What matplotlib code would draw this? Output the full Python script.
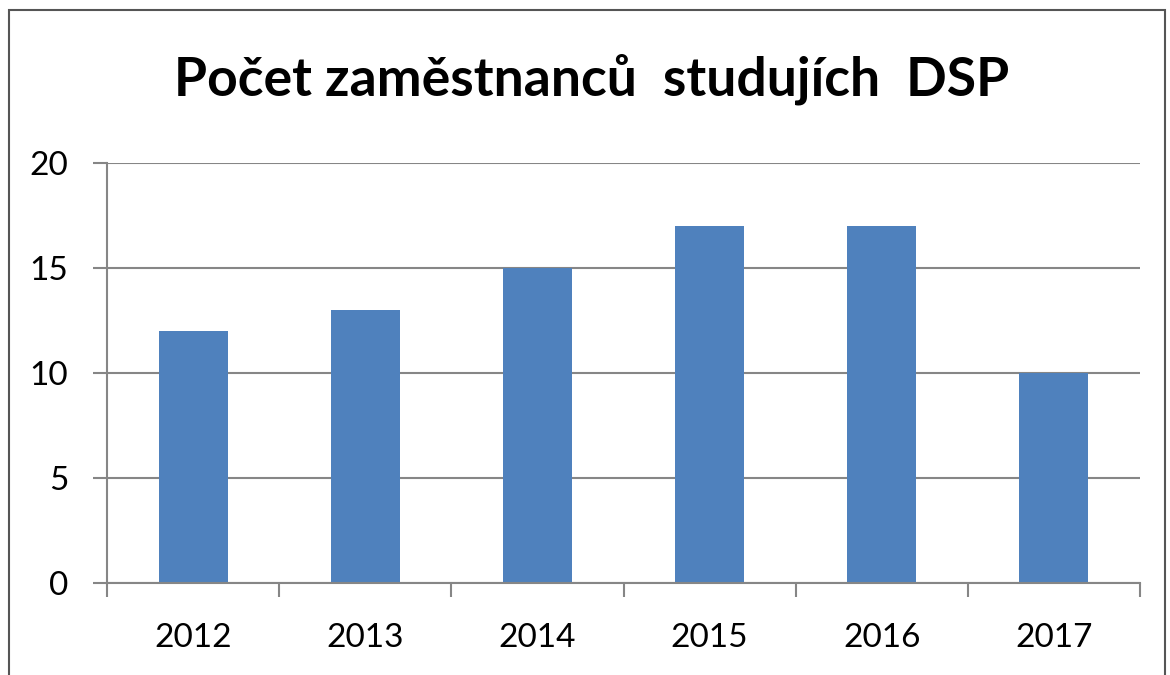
import matplotlib
matplotlib.use("Agg")
import matplotlib.pyplot as plt
from matplotlib.patches import Rectangle

years = ["2012", "2013", "2014", "2015", "2016", "2017"]
counts = [12, 13, 15, 17, 17, 10]
y_ticks = [0, 5, 10, 15, 20]
title = "Počet zaměstnanců  studujích  DSP"

plt.rcParams['font.family'] = ['Lato', 'DejaVu Sans']
grey = '#868686'

fig = plt.figure(figsize=(11.7, 6.75), dpi=100)
ax = fig.add_axes([107/1170, 1-583/675, (1140-107)/1170, (583-163)/675])

x = list(range(len(years)))
ax.bar(x, counts, width=0.4, color='#4F81BD', zorder=3)
ax.set_xlim(-0.5, len(years)-0.5)
ax.set_ylim(0, 20)
ax.set_yticks(y_ticks)
ax.set_yticklabels([str(v) for v in y_ticks], fontsize=24)
ax.set_xticks(x)
ax.set_xticklabels(years, fontsize=24)
ax.tick_params(axis='x', length=0, pad=29)
ax.tick_params(axis='y', length=10, color=grey, width=1.5, pad=18)
# category boundary ticks
ax.set_xticks([i-0.5 for i in range(len(years)+1)], minor=True)
ax.tick_params(axis='x', which='minor', length=10, color=grey, width=1.5)
ax.grid(axis='y', color=grey, linewidth=1.5, zorder=0)
for s in ['top', 'right']:
    ax.spines[s].set_visible(False)
for s in ['left', 'bottom']:
    ax.spines[s].set_color(grey)
    ax.spines[s].set_linewidth(1.5)
ax.spines['bottom'].set_zorder(4)

fig.text(592/1170, 1-79/675, title, ha='center', va='center',
         fontsize=38.5, fontweight='bold')

fig.patches.append(Rectangle((9/1170, -0.05), (1165-9)/1170, 1.05-10/675,
                             transform=fig.transFigure, fill=False,
                             edgecolor='#555555', linewidth=1.5))

fig.savefig("out.png", dpi=100)
